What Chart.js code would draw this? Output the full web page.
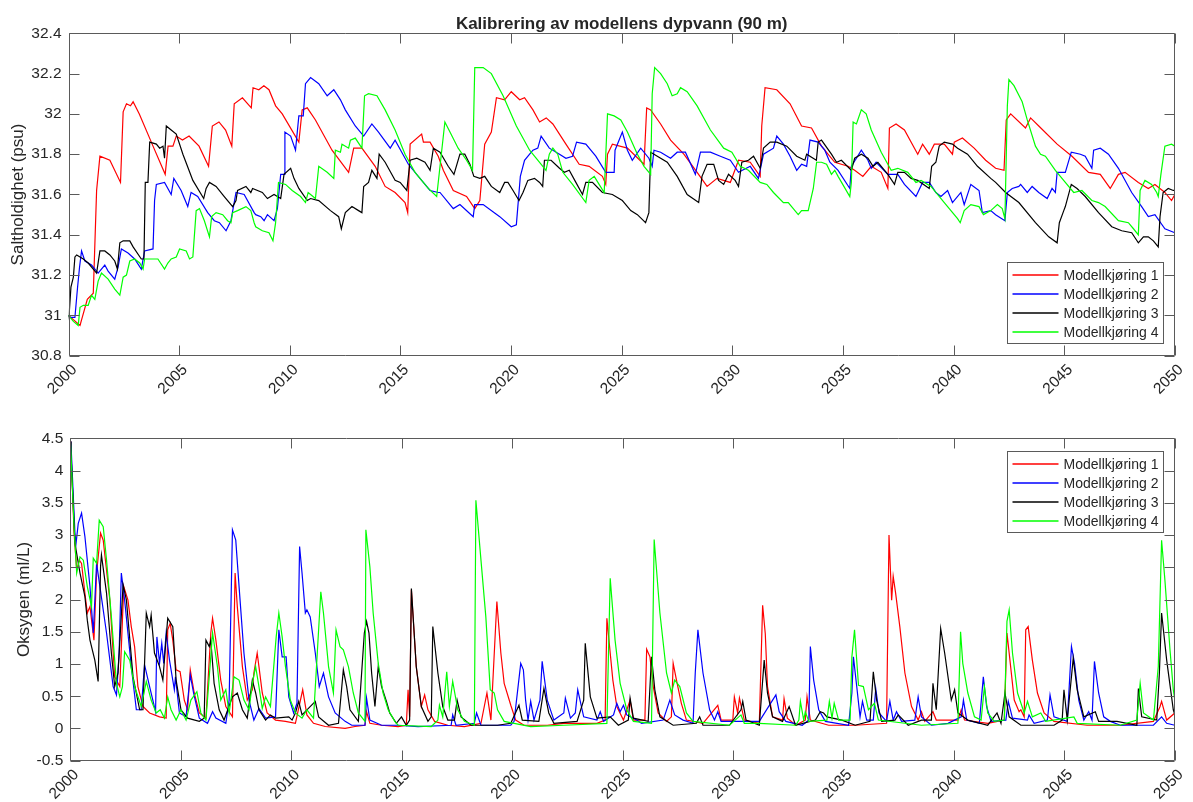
<!DOCTYPE html>
<html>
<head>
<meta charset="utf-8">
<script src="https://cdn.jsdelivr.net/npm/chart.js@4.4.1/dist/chart.umd.min.js"></script>
<style>
  html, body { margin: 0; padding: 0; background: #ffffff; }
  #wrap { position: relative; width: 1193px; height: 802px; background: #ffffff; }
  canvas { position: absolute; left: 0; display: block; }
</style>
</head>
<body>
<div id="wrap">
  <canvas id="salinityChart" width="1193" height="401" style="top:0"></canvas>
  <canvas id="oxygenChart" width="1193" height="401" style="top:401px"></canvas>
</div>
<script>
// ---- Axis ticks and labels ----
const yearTicks = [2000, 2005, 2010, 2015, 2020, 2025, 2030, 2035, 2040, 2045, 2050];
const salinityTicks = [30.8, 31, 31.2, 31.4, 31.6, 31.8, 32, 32.2, 32.4];
const oxygenTicks = [-0.5, 0, 0.5, 1, 1.5, 2, 2.5, 3, 3.5, 4, 4.5];
const runLabels = ['Modellkjøring 1', 'Modellkjøring 2', 'Modellkjøring 3', 'Modellkjøring 4'];
const runColors = ['#ff0000', '#0000ff', '#000000', '#00ff00'];

// ---- Salinity at 90 m (psu), [year, value] ----
const salinity1 = [[2000.00,31.00],[2000.52,30.95],[2000.85,31.08],[2001.12,31.11],[2001.27,31.62],[2001.42,31.79],[2001.87,31.77],[2002.35,31.66],[2002.47,32.01],[2002.62,32.05],[2002.80,32.04],[2002.92,32.06],[2003.20,32.00],[2003.82,31.84],[2004.37,31.70],[2004.50,31.84],[2004.72,31.84],[2004.87,31.89],[2005.15,31.87],[2005.45,31.89],[2005.90,31.84],[2006.33,31.74],[2006.50,31.94],[2006.80,31.96],[2007.10,31.92],[2007.38,31.84],[2007.49,32.05],[2007.86,32.08],[2008.26,32.03],[2008.34,32.13],[2008.60,32.12],[2008.83,32.14],[2009.06,32.12],[2009.36,32.04],[2009.66,32.00],[2010.41,31.86],[2010.56,32.02],[2010.79,32.03],[2011.16,31.97],[2011.91,31.82],[2012.66,31.71],[2012.89,31.83],[2013.26,31.83],[2013.86,31.74],[2014.31,31.64],[2014.76,31.61],[2015.21,31.56],[2015.33,31.51],[2015.44,31.85],[2015.96,31.90],[2016.04,31.86],[2016.34,31.86],[2016.71,31.79],[2016.94,31.72],[2017.39,31.62],[2017.99,31.59],[2018.36,31.53],[2018.59,31.57],[2018.81,31.85],[2019.11,31.91],[2019.34,32.08],[2019.71,32.07],[2020.01,32.11],[2020.39,32.07],[2020.61,32.08],[2020.99,32.02],[2021.29,31.96],[2021.59,31.98],[2021.89,31.95],[2022.48,31.85],[2023.08,31.75],[2023.53,31.74],[2024.13,31.69],[2024.28,31.65],[2024.36,31.80],[2024.58,31.85],[2025.26,31.83],[2026.01,31.75],[2026.13,32.03],[2026.31,32.02],[2026.76,31.95],[2027.21,31.87],[2027.81,31.80],[2028.41,31.71],[2028.86,31.64],[2029.31,31.68],[2029.91,31.66],[2030.28,31.77],[2030.81,31.76],[2031.26,31.69],[2031.33,31.94],[2031.48,32.13],[2032.01,32.12],[2032.61,32.05],[2033.13,31.94],[2033.58,31.93],[2034.03,31.84],[2034.63,31.76],[2035.23,31.74],[2035.53,31.72],[2035.90,31.69],[2036.28,31.74],[2036.73,31.71],[2037.03,31.63],[2037.10,31.93],[2037.40,31.95],[2037.78,31.92],[2038.38,31.80],[2038.60,31.85],[2038.90,31.80],[2039.13,31.85],[2039.58,31.85],[2039.95,31.80],[2040.03,31.86],[2040.40,31.88],[2040.93,31.83],[2041.45,31.77],[2041.90,31.73],[2042.28,31.72],[2042.38,31.97],[2042.58,32.00],[2043.25,31.93],[2043.48,31.98],[2043.85,31.94],[2044.68,31.85],[2045.35,31.79],[2046.10,31.71],[2046.63,31.70],[2047.08,31.63],[2047.45,31.70],[2047.75,31.71],[2048.35,31.66],[2048.80,31.63],[2049.10,31.65],[2049.55,31.61],[2049.85,31.57],[2050.00,31.60]];

const salinity2 = [[2000.00,31.00],[2000.07,30.99],[2000.29,30.99],[2000.41,31.14],[2000.50,31.24],[2000.59,31.32],[2000.74,31.27],[2001.04,31.25],[2001.34,31.21],[2001.64,31.25],[2001.79,31.22],[2002.09,31.18],[2002.24,31.24],[2002.39,31.33],[2002.69,31.31],[2002.99,31.28],[2003.29,31.23],[2003.44,31.32],[2003.82,31.33],[2003.89,31.57],[2003.97,31.65],[2004.34,31.66],[2004.64,31.60],[2004.76,31.68],[2005.09,31.62],[2005.39,31.54],[2005.54,31.61],[2005.84,31.59],[2006.29,31.51],[2006.59,31.47],[2006.82,31.46],[2007.12,31.42],[2007.34,31.47],[2007.57,31.61],[2007.94,31.60],[2008.39,31.51],[2008.46,31.50],[2008.69,31.49],[2008.84,31.47],[2008.99,31.50],[2009.29,31.47],[2009.44,31.53],[2009.59,31.70],[2009.74,31.70],[2009.78,31.91],[2010.04,31.89],[2010.26,31.82],[2010.41,31.99],[2010.61,31.99],[2010.71,32.15],[2010.94,32.18],[2011.31,32.15],[2011.69,32.09],[2011.99,32.12],[2012.29,32.07],[2012.51,32.02],[2012.96,31.94],[2013.34,31.89],[2013.71,31.95],[2014.01,31.91],[2014.54,31.83],[2014.76,31.87],[2015.36,31.75],[2015.96,31.67],[2016.34,31.62],[2016.71,31.61],[2016.79,31.61],[2017.39,31.53],[2017.69,31.55],[2018.29,31.49],[2018.36,31.55],[2018.74,31.55],[2019.49,31.49],[2020.01,31.44],[2020.24,31.45],[2020.42,31.69],[2020.61,31.77],[2020.84,31.80],[2020.99,31.82],[2021.21,31.83],[2021.36,31.89],[2021.73,31.83],[2022.19,31.80],[2022.48,31.78],[2022.78,31.79],[2022.96,31.86],[2023.38,31.85],[2023.83,31.79],[2024.28,31.71],[2024.66,31.71],[2024.70,31.82],[2025.03,31.91],[2025.26,31.82],[2025.48,31.77],[2025.86,31.83],[2026.23,31.78],[2026.38,31.74],[2026.46,31.82],[2026.76,31.81],[2027.21,31.78],[2027.51,31.81],[2027.88,31.81],[2028.33,31.70],[2028.56,31.81],[2029.01,31.81],[2029.46,31.79],[2029.91,31.77],[2030.28,31.71],[2030.81,31.74],[2031.18,31.68],[2031.41,31.80],[2031.86,31.83],[2032.01,31.89],[2032.31,31.85],[2032.61,31.79],[2032.91,31.72],[2033.13,31.75],[2033.36,31.74],[2033.51,31.87],[2033.88,31.86],[2034.18,31.82],[2034.41,31.76],[2034.78,31.72],[2035.31,31.63],[2035.38,31.74],[2035.61,31.78],[2035.83,31.82],[2036.13,31.77],[2036.28,31.73],[2036.50,31.76],[2037.03,31.70],[2037.48,31.70],[2037.78,31.65],[2038.30,31.59],[2038.60,31.66],[2038.90,31.66],[2039.20,31.61],[2039.43,31.59],[2039.73,31.62],[2039.95,31.56],[2040.33,31.61],[2040.48,31.55],[2040.78,31.65],[2041.15,31.62],[2041.30,31.51],[2041.68,31.52],[2041.90,31.50],[2042.32,31.47],[2042.43,31.61],[2042.65,31.63],[2042.95,31.64],[2043.03,31.65],[2043.33,31.61],[2043.55,31.64],[2043.85,31.61],[2044.23,31.58],[2044.45,31.63],[2044.60,31.61],[2044.68,31.71],[2045.05,31.71],[2045.32,31.81],[2045.73,31.80],[2045.95,31.79],[2046.25,31.73],[2046.33,31.82],[2046.63,31.83],[2047.00,31.80],[2047.45,31.73],[2048.05,31.61],[2048.50,31.54],[2048.80,31.49],[2049.10,31.50],[2049.55,31.43],[2050.00,31.41]];

const salinity3 = [[2000.00,31.00],[2000.02,30.99],[2000.11,31.14],[2000.22,31.19],[2000.29,31.29],[2000.37,31.30],[2000.52,31.29],[2000.67,31.28],[2000.89,31.26],[2001.12,31.23],[2001.27,31.21],[2001.42,31.32],[2001.64,31.32],[2001.87,31.30],[2002.09,31.27],[2002.21,31.23],[2002.32,31.36],[2002.47,31.37],[2002.77,31.37],[2002.92,31.34],[2003.29,31.28],[2003.41,31.28],[2003.47,31.66],[2003.59,31.66],[2003.67,31.86],[2003.97,31.85],[2004.12,31.83],[2004.27,31.84],[2004.34,31.78],[2004.42,31.94],[2004.64,31.92],[2004.87,31.90],[2005.17,31.80],[2005.62,31.67],[2006.11,31.58],[2006.22,31.63],[2006.37,31.66],[2006.67,31.64],[2007.04,31.59],[2007.42,31.54],[2007.57,31.57],[2007.64,31.62],[2008.02,31.64],[2008.24,31.61],[2008.32,31.63],[2008.76,31.61],[2008.99,31.58],[2009.29,31.60],[2009.59,31.58],[2009.74,31.70],[2010.04,31.73],[2010.19,31.68],[2010.41,31.63],[2010.79,31.57],[2010.94,31.58],[2011.31,31.57],[2011.84,31.52],[2012.21,31.49],[2012.33,31.43],[2012.51,31.51],[2012.81,31.54],[2013.11,31.52],[2013.26,31.51],[2013.34,31.64],[2013.56,31.66],[2013.71,31.72],[2013.94,31.68],[2014.04,31.80],[2014.31,31.76],[2014.76,31.67],[2014.99,31.66],[2015.29,31.62],[2015.44,31.77],[2015.74,31.78],[2016.11,31.76],[2016.34,31.72],[2016.49,31.83],[2016.79,31.81],[2017.16,31.74],[2017.42,31.70],[2017.69,31.80],[2017.91,31.80],[2018.14,31.75],[2018.32,31.69],[2018.59,31.68],[2018.81,31.69],[2019.11,31.64],[2019.49,31.61],[2019.71,31.66],[2019.86,31.66],[2020.09,31.62],[2020.36,31.57],[2020.54,31.61],[2020.76,31.67],[2021.06,31.68],[2021.29,31.66],[2021.43,31.64],[2021.51,31.77],[2021.81,31.77],[2022.19,31.73],[2022.41,31.71],[2022.63,31.72],[2022.93,31.66],[2023.23,31.60],[2023.38,31.66],[2023.68,31.66],[2024.13,31.61],[2024.58,31.60],[2025.03,31.57],[2025.11,31.56],[2025.41,31.52],[2025.71,31.50],[2026.08,31.46],[2026.23,31.51],[2026.31,31.81],[2026.61,31.79],[2027.06,31.76],[2027.51,31.69],[2027.96,31.60],[2028.48,31.56],[2028.63,31.69],[2028.86,31.75],[2029.16,31.75],[2029.38,31.67],[2029.61,31.65],[2029.83,31.70],[2030.13,31.67],[2030.28,31.64],[2030.43,31.76],[2030.73,31.77],[2030.96,31.79],[2031.26,31.73],[2031.41,31.83],[2031.71,31.86],[2032.01,31.86],[2032.46,31.84],[2032.91,31.79],[2033.28,31.77],[2033.36,31.80],[2033.80,31.77],[2033.88,31.86],[2034.03,31.87],[2034.48,31.80],[2034.71,31.76],[2034.93,31.77],[2035.38,31.72],[2035.53,31.78],[2035.83,31.80],[2036.13,31.78],[2036.36,31.74],[2036.58,31.76],[2037.03,31.70],[2037.33,31.65],[2037.48,31.71],[2037.78,31.71],[2038.08,31.68],[2038.38,31.67],[2038.90,31.63],[2039.01,31.74],[2039.20,31.76],[2039.35,31.84],[2039.58,31.86],[2039.95,31.85],[2040.18,31.83],[2040.63,31.80],[2041.08,31.74],[2041.68,31.68],[2041.90,31.66],[2042.35,31.61],[2042.95,31.56],[2043.70,31.46],[2044.30,31.39],[2044.68,31.36],[2044.78,31.46],[2044.98,31.52],[2045.05,31.54],[2045.32,31.65],[2045.58,31.63],[2045.95,31.59],[2046.55,31.51],[2047.15,31.44],[2047.60,31.42],[2048.05,31.41],[2048.35,31.36],[2048.58,31.39],[2048.80,31.39],[2049.03,31.37],[2049.25,31.34],[2049.33,31.49],[2049.47,31.61],[2049.70,31.63],[2049.93,31.62],[2050.00,31.62]];

const salinity4 = [[2000.00,31.00],[2000.22,30.97],[2000.44,30.95],[2000.52,31.04],[2000.67,31.05],[2000.89,31.05],[2001.04,31.10],[2001.19,31.08],[2001.34,31.17],[2001.49,31.21],[2001.79,31.18],[2002.09,31.13],[2002.32,31.10],[2002.47,31.19],[2002.62,31.20],[2002.77,31.27],[2002.99,31.28],[2003.22,31.26],[2003.37,31.23],[2003.44,31.28],[2003.74,31.28],[2004.04,31.28],[2004.34,31.23],[2004.49,31.26],[2004.64,31.28],[2004.87,31.29],[2005.02,31.33],[2005.32,31.32],[2005.47,31.28],[2005.62,31.29],[2005.77,31.52],[2005.92,31.53],[2006.14,31.47],[2006.37,31.39],[2006.47,31.49],[2006.67,31.51],[2006.97,31.50],[2007.19,31.47],[2007.34,31.46],[2007.42,31.51],[2007.64,31.52],[2008.02,31.54],[2008.24,31.52],[2008.39,31.46],[2008.46,31.44],[2008.76,31.42],[2009.06,31.41],[2009.24,31.37],[2009.36,31.46],[2009.49,31.66],[2009.81,31.65],[2010.11,31.62],[2010.49,31.59],[2010.71,31.56],[2010.83,31.61],[2010.94,31.60],[2011.16,31.58],[2011.31,31.74],[2011.69,31.71],[2011.99,31.68],[2012.06,31.82],[2012.29,31.81],[2012.36,31.85],[2012.66,31.83],[2012.74,31.87],[2012.96,31.88],[2013.26,31.83],[2013.38,32.09],[2013.56,32.10],[2013.94,32.09],[2014.31,32.02],[2014.76,31.92],[2015.21,31.80],[2015.66,31.71],[2016.26,31.63],[2016.64,31.59],[2016.79,31.74],[2017.01,31.96],[2017.24,31.91],[2017.61,31.83],[2017.99,31.77],[2018.26,31.72],[2018.36,32.23],[2018.74,32.23],[2019.11,32.20],[2019.64,32.09],[2020.24,31.94],[2020.84,31.82],[2021.29,31.76],[2021.58,31.72],[2021.73,31.80],[2021.89,31.83],[2022.11,31.80],[2022.34,31.71],[2022.78,31.65],[2023.38,31.56],[2023.53,31.67],[2023.76,31.69],[2023.98,31.65],[2024.21,31.61],[2024.36,32.00],[2024.66,31.99],[2024.96,31.97],[2025.26,31.91],[2025.71,31.80],[2026.01,31.74],[2026.31,31.70],[2026.38,32.10],[2026.49,32.23],[2026.76,32.20],[2027.06,32.15],[2027.28,32.09],[2027.51,32.10],[2027.66,32.13],[2027.96,32.11],[2028.41,32.04],[2029.01,31.92],[2029.61,31.83],[2029.98,31.81],[2030.36,31.74],[2030.73,31.72],[2031.26,31.66],[2031.56,31.65],[2031.86,31.61],[2032.31,31.56],[2032.53,31.56],[2032.68,31.54],[2032.98,31.50],[2033.13,31.52],[2033.43,31.52],[2033.66,31.63],[2033.81,31.76],[2034.03,31.76],[2034.26,31.75],[2034.48,31.70],[2034.63,31.72],[2034.78,31.69],[2035.31,31.59],[2035.38,31.66],[2035.46,31.96],[2035.61,31.95],[2035.83,32.02],[2036.05,32.00],[2036.28,31.92],[2036.73,31.81],[2037.18,31.72],[2037.48,31.73],[2037.93,31.71],[2038.30,31.66],[2038.53,31.67],[2038.98,31.64],[2039.58,31.56],[2040.18,31.48],[2040.30,31.46],[2040.48,31.52],[2040.78,31.55],[2041.15,31.54],[2041.35,31.50],[2041.68,31.52],[2041.98,31.55],[2042.20,31.53],[2042.32,31.48],[2042.43,32.04],[2042.50,32.17],[2042.73,32.14],[2043.10,32.06],[2043.33,31.97],[2043.70,31.84],[2043.93,31.80],[2044.15,31.79],[2044.60,31.72],[2045.05,31.66],[2045.43,31.61],[2045.80,31.62],[2046.25,31.57],[2046.55,31.56],[2046.85,31.54],[2047.45,31.47],[2047.90,31.46],[2048.13,31.43],[2048.35,31.40],[2048.43,31.62],[2048.65,31.67],[2048.95,31.65],[2049.18,31.61],[2049.25,31.59],[2049.37,31.70],[2049.55,31.84],[2049.85,31.85],[2050.00,31.84]];

// ---- Oxygen at 90 m (ml/L), [year, value] ----
const oxygen1 = [[2000.00,4.45],[2000.03,4.37],[2000.17,3.03],[2000.29,2.46],[2000.41,2.61],[2000.51,2.56],[2000.66,2.10],[2000.77,1.79],[2000.89,1.89],[2001.07,1.37],[2001.19,2.41],[2001.37,3.03],[2001.49,2.92],[2001.79,1.99],[2002.01,0.80],[2002.24,0.65],[2002.42,2.20],[2002.61,1.99],[2002.76,1.58],[2002.91,1.27],[2003.06,0.65],[2003.29,0.34],[2003.59,0.24],[2004.04,0.18],[2004.34,0.16],[2004.41,1.53],[2004.52,1.63],[2004.64,1.37],[2004.79,0.91],[2004.97,0.88],[2005.16,0.44],[2005.31,0.29],[2005.43,0.91],[2005.61,0.55],[2005.84,0.24],[2006.14,0.16],[2006.36,1.48],[2006.44,1.71],[2006.59,1.37],[2006.81,0.75],[2007.04,0.34],[2007.34,0.18],[2007.46,2.41],[2007.56,1.89],[2007.79,0.96],[2008.01,0.44],[2008.24,0.60],[2008.31,0.86],[2008.46,1.17],[2008.54,0.96],[2008.69,0.55],[2008.91,0.24],[2009.29,0.13],[2009.74,0.11],[2010.19,0.08],[2010.52,0.60],[2010.71,0.21],[2011.01,0.08],[2011.54,0.03],[2012.44,0.00],[2012.89,0.03],[2013.34,0.05],[2013.41,0.26],[2013.56,0.08],[2014.09,0.05],[2014.84,0.03],[2015.21,0.05],[2015.29,0.60],[2015.36,0.18],[2015.44,2.15],[2015.66,0.96],[2015.89,0.34],[2016.04,0.52],[2016.19,0.29],[2016.49,0.11],[2017.09,0.05],[2017.84,0.03],[2018.59,0.08],[2018.86,0.55],[2019.04,0.13],[2019.31,1.97],[2019.49,1.17],[2019.64,0.70],[2019.94,0.36],[2020.16,0.13],[2020.54,0.05],[2021.59,0.05],[2022.34,0.08],[2023.84,0.08],[2024.21,0.13],[2024.29,1.71],[2024.44,1.17],[2024.56,0.75],[2024.74,0.34],[2025.04,0.13],[2025.34,0.44],[2025.49,0.13],[2026.01,0.13],[2026.09,1.23],[2026.24,1.11],[2026.39,0.65],[2026.61,0.24],[2026.99,0.11],[2027.21,0.18],[2027.29,1.01],[2027.44,0.75],[2027.66,0.39],[2027.89,0.13],[2028.64,0.08],[2029.31,0.36],[2029.46,0.13],[2029.99,0.13],[2030.06,0.49],[2030.21,0.24],[2030.29,0.47],[2030.51,0.13],[2031.19,0.08],[2031.34,1.91],[2031.46,1.47],[2031.56,0.65],[2031.79,0.18],[2032.24,0.13],[2032.31,0.46],[2032.46,0.16],[2032.84,0.05],[2033.27,0.13],[2033.35,0.49],[2033.50,0.13],[2034.33,0.05],[2035.53,0.05],[2036.95,0.08],[2037.06,3.00],[2037.18,1.99],[2037.25,2.36],[2037.36,2.10],[2037.55,1.58],[2037.78,0.86],[2038.08,0.34],[2038.38,0.13],[2038.53,0.26],[2038.68,0.11],[2039.05,0.26],[2039.20,0.13],[2040.18,0.13],[2040.33,0.29],[2040.48,0.13],[2041.53,0.08],[2042.28,0.13],[2042.40,1.48],[2042.50,1.17],[2042.73,0.44],[2042.95,0.26],[2043.03,0.29],[2043.18,0.18],[2043.25,1.53],[2043.36,1.58],[2043.55,1.06],[2043.78,0.55],[2044.08,0.24],[2044.53,0.11],[2046.03,0.05],[2047.53,0.05],[2049.03,0.11],[2049.33,0.34],[2049.40,0.42],[2049.63,0.13],[2050.00,0.24]];

const oxygen2 = [[2000.00,4.45],[2000.03,4.42],[2000.21,3.03],[2000.26,2.87],[2000.36,3.18],[2000.51,3.34],[2000.66,2.98],[2000.89,2.20],[2001.04,1.48],[2001.19,2.56],[2001.34,2.20],[2001.64,1.48],[2001.94,0.65],[2002.09,0.52],[2002.21,1.17],[2002.31,2.41],[2002.46,1.99],[2002.76,0.96],[2002.99,0.29],[2003.21,0.29],[2003.36,0.99],[2003.59,0.65],[2003.86,0.26],[2003.92,1.42],[2004.04,1.01],[2004.14,1.32],[2004.23,1.01],[2004.34,1.48],[2004.49,1.06],[2004.71,0.60],[2004.76,0.80],[2004.94,0.24],[2005.24,0.18],[2005.43,0.83],[2005.58,0.55],[2005.84,0.16],[2006.21,0.08],[2006.44,0.26],[2006.59,0.16],[2007.04,0.08],[2007.19,0.44],[2007.34,3.08],[2007.49,2.92],[2007.64,2.20],[2007.86,1.17],[2008.09,0.44],[2008.31,0.13],[2008.54,0.31],[2008.84,0.16],[2009.29,0.18],[2009.44,1.53],[2009.59,1.11],[2009.77,1.11],[2009.89,0.49],[2010.11,0.24],[2010.26,0.39],[2010.38,2.82],[2010.49,2.41],[2010.64,1.79],[2010.71,1.84],[2010.86,1.73],[2011.09,1.17],[2011.27,0.65],[2011.46,0.86],[2011.69,0.49],[2011.99,0.24],[2012.44,0.11],[2012.74,0.05],[2013.34,0.05],[2013.41,0.47],[2013.56,0.13],[2014.09,0.05],[2014.84,0.05],[2015.74,0.03],[2017.24,0.05],[2017.31,0.21],[2017.46,0.05],[2018.29,0.08],[2018.39,0.24],[2018.59,0.05],[2019.94,0.05],[2020.09,0.11],[2020.39,1.01],[2020.51,0.91],[2020.61,0.44],[2020.72,0.13],[2020.84,0.42],[2020.99,0.13],[2021.26,0.44],[2021.36,1.04],[2021.59,0.44],[2021.89,0.13],[2022.34,0.24],[2022.41,0.47],[2022.64,0.16],[2022.86,0.24],[2022.97,0.60],[2023.24,0.18],[2023.84,0.13],[2023.99,0.26],[2024.14,0.11],[2024.59,0.21],[2024.74,0.39],[2024.89,0.26],[2025.04,0.36],[2025.19,0.21],[2025.64,0.13],[2025.86,0.08],[2026.84,0.13],[2027.14,0.44],[2027.36,0.21],[2027.74,0.13],[2028.19,0.08],[2028.29,0.86],[2028.41,1.53],[2028.64,0.86],[2028.94,0.29],[2029.16,0.13],[2029.31,0.26],[2029.46,0.11],[2031.19,0.11],[2031.94,0.52],[2032.09,0.26],[2032.39,0.11],[2032.76,0.08],[2033.13,0.05],[2033.43,0.13],[2033.50,1.27],[2033.65,0.75],[2033.88,0.29],[2034.18,0.11],[2035.23,0.05],[2035.38,0.55],[2035.45,1.11],[2035.60,0.65],[2035.75,0.18],[2035.86,0.42],[2036.05,0.13],[2036.35,0.13],[2036.46,0.62],[2036.61,0.24],[2036.95,0.11],[2037.10,0.42],[2037.25,0.13],[2037.40,0.26],[2037.63,0.11],[2038.23,0.13],[2038.38,0.49],[2038.53,0.18],[2038.98,0.05],[2039.73,0.08],[2040.33,0.18],[2040.43,0.44],[2040.58,0.13],[2041.15,0.08],[2041.33,0.80],[2041.48,0.34],[2041.68,0.11],[2042.35,0.13],[2042.46,0.42],[2042.65,0.16],[2043.33,0.13],[2043.40,0.21],[2043.63,0.08],[2044.23,0.13],[2044.35,0.52],[2044.53,0.18],[2045.13,0.11],[2045.32,1.27],[2045.46,1.01],[2045.65,0.44],[2045.88,0.13],[2046.10,0.26],[2046.25,0.13],[2046.36,1.04],[2046.55,0.55],[2046.78,0.18],[2047.08,0.11],[2047.53,0.05],[2049.03,0.05],[2049.40,0.18],[2049.63,0.08],[2050.00,0.05]];

const oxygen3 = [[2000.00,4.45],[2000.03,4.27],[2000.21,2.87],[2000.44,2.41],[2000.66,2.05],[2000.77,1.68],[2000.89,1.37],[2001.11,1.06],[2001.26,0.73],[2001.37,2.51],[2001.41,2.69],[2001.64,2.10],[2001.86,1.17],[2002.01,0.65],[2002.16,0.86],[2002.39,2.23],[2002.54,1.99],[2002.84,0.80],[2003.14,0.29],[2003.29,0.29],[2003.44,1.79],[2003.59,1.58],[2003.66,1.76],[2003.81,1.17],[2004.04,0.96],[2004.19,0.75],[2004.41,1.71],[2004.64,1.58],[2004.79,0.75],[2005.01,0.29],[2005.31,0.16],[2005.84,0.11],[2006.06,0.16],[2006.14,1.37],[2006.29,1.27],[2006.36,1.37],[2006.51,0.70],[2006.74,0.29],[2006.96,0.13],[2007.34,0.49],[2007.56,0.55],[2007.79,0.29],[2008.01,0.16],[2008.24,0.75],[2008.39,0.55],[2008.54,0.29],[2008.84,0.13],[2009.06,0.21],[2009.29,0.16],[2009.89,0.18],[2010.04,0.13],[2010.19,0.24],[2010.34,0.42],[2010.49,0.21],[2011.09,0.42],[2011.24,0.18],[2011.69,0.05],[2012.14,0.08],[2012.36,0.91],[2012.51,0.65],[2012.66,0.29],[2013.04,0.11],[2013.31,1.48],[2013.41,1.66],[2013.52,1.48],[2013.64,0.86],[2013.79,0.34],[2013.94,0.96],[2014.09,0.65],[2014.31,0.42],[2014.46,0.24],[2014.76,0.08],[2014.99,0.18],[2015.21,0.05],[2015.36,0.13],[2015.44,2.17],[2015.66,0.96],[2015.89,0.34],[2016.19,0.11],[2016.34,0.18],[2016.41,1.58],[2016.64,0.86],[2016.86,0.34],[2017.09,0.13],[2017.39,0.13],[2017.51,0.44],[2017.69,0.18],[2018.14,0.05],[2019.34,0.05],[2019.94,0.08],[2020.31,0.36],[2020.46,0.13],[2021.21,0.11],[2021.44,0.62],[2021.66,0.24],[2021.89,0.08],[2022.94,0.11],[2023.24,0.44],[2023.31,1.32],[2023.54,0.49],[2023.84,0.16],[2024.44,0.18],[2024.81,0.05],[2025.26,0.13],[2025.34,0.47],[2025.49,0.16],[2026.16,0.11],[2026.31,1.11],[2026.46,0.60],[2026.69,0.18],[2027.29,0.05],[2028.34,0.08],[2028.49,0.18],[2028.64,0.05],[2029.84,0.05],[2030.36,0.29],[2030.44,0.42],[2030.59,0.13],[2031.19,0.05],[2031.41,1.06],[2031.56,0.55],[2031.79,0.18],[2032.24,0.11],[2032.54,0.34],[2032.83,0.05],[2033.73,0.13],[2033.95,0.26],[2034.10,0.24],[2034.25,0.18],[2034.93,0.13],[2035.53,0.05],[2036.20,0.11],[2036.35,0.88],[2036.50,0.44],[2036.73,0.11],[2037.33,0.13],[2037.48,0.21],[2037.93,0.05],[2038.53,0.13],[2038.98,0.13],[2039.05,0.70],[2039.20,0.29],[2039.40,1.55],[2039.58,1.17],[2039.88,0.44],[2040.03,0.60],[2040.18,0.24],[2040.63,0.13],[2041.53,0.05],[2041.95,0.24],[2042.13,0.08],[2042.31,0.55],[2042.50,0.18],[2043.03,0.05],[2044.53,0.05],[2044.90,0.13],[2044.98,0.60],[2045.13,0.13],[2045.40,1.09],[2045.58,0.60],[2045.88,0.18],[2046.40,0.26],[2046.55,0.11],[2047.38,0.11],[2048.28,0.05],[2048.35,0.62],[2048.50,0.18],[2049.18,0.13],[2049.30,0.86],[2049.40,1.79],[2049.63,1.06],[2049.93,0.29],[2050.00,0.21]];

const oxygen4 = [[2000.00,4.50],[2000.03,4.50],[2000.17,3.13],[2000.29,2.41],[2000.44,2.66],[2000.59,2.61],[2000.77,2.20],[2000.96,1.89],[2001.04,2.64],[2001.19,2.56],[2001.31,3.23],[2001.49,3.13],[2001.64,2.61],[2001.86,1.73],[2002.09,0.70],[2002.24,0.49],[2002.36,0.65],[2002.46,1.19],[2002.69,1.06],[2002.91,0.65],[2003.21,0.34],[2003.44,0.73],[2003.66,0.44],[2003.89,0.24],[2004.07,0.29],[2004.26,0.16],[2004.41,0.49],[2004.56,0.29],[2004.79,0.13],[2005.01,0.29],[2005.24,0.13],[2005.46,0.44],[2005.73,0.57],[2005.91,0.24],[2006.14,0.13],[2006.44,1.48],[2006.66,0.96],[2006.81,0.44],[2007.04,0.60],[2007.19,0.24],[2007.41,0.80],[2007.64,0.75],[2007.86,0.44],[2008.09,0.29],[2008.24,0.70],[2008.39,0.96],[2008.54,0.65],[2008.69,0.31],[2008.84,0.49],[2009.06,0.34],[2009.32,1.42],[2009.44,1.79],[2009.59,1.42],[2009.74,0.96],[2009.96,0.44],[2010.19,0.24],[2010.49,0.16],[2010.71,0.29],[2011.01,0.16],[2011.34,2.12],[2011.46,1.79],[2011.69,0.96],[2011.91,0.55],[2012.03,1.53],[2012.21,1.27],[2012.36,1.22],[2012.59,0.96],[2012.81,0.55],[2013.04,0.24],[2013.34,0.11],[2013.38,3.08],[2013.56,2.51],[2013.71,1.79],[2013.94,1.01],[2014.16,0.55],[2014.39,0.29],[2014.69,0.11],[2014.84,0.05],[2016.34,0.03],[2016.64,0.13],[2016.71,0.36],[2016.86,0.18],[2017.04,0.88],[2017.16,0.34],[2017.31,0.73],[2017.54,0.29],[2017.84,0.11],[2018.29,0.05],[2018.36,3.54],[2018.59,2.61],[2018.81,1.73],[2019.01,0.60],[2019.19,0.55],[2019.34,0.29],[2019.64,0.11],[2020.84,0.03],[2022.34,0.05],[2024.29,0.08],[2024.44,2.33],[2024.66,1.37],[2024.89,0.70],[2025.19,0.29],[2025.49,0.11],[2026.31,0.08],[2026.43,2.93],[2026.69,1.79],[2026.99,0.86],[2027.21,0.55],[2027.36,0.75],[2027.59,0.65],[2027.89,0.24],[2028.19,0.11],[2029.84,0.05],[2030.36,0.21],[2030.51,0.08],[2031.19,0.08],[2032.84,0.05],[2032.98,0.13],[2033.05,0.42],[2033.20,0.13],[2033.27,0.26],[2033.43,0.11],[2034.25,0.13],[2034.36,0.42],[2034.48,0.16],[2034.58,0.39],[2034.78,0.13],[2035.30,0.13],[2035.38,1.11],[2035.50,1.53],[2035.68,0.67],[2035.90,0.65],[2036.13,0.29],[2036.40,0.39],[2036.58,0.13],[2038.53,0.05],[2040.18,0.08],[2040.30,1.50],[2040.40,1.01],[2040.63,0.55],[2040.93,0.18],[2041.23,0.13],[2041.38,0.65],[2041.53,0.24],[2041.83,0.11],[2042.28,0.13],[2042.40,1.66],[2042.50,1.84],[2042.65,1.17],[2042.88,0.55],[2043.18,0.24],[2043.33,0.42],[2043.55,0.18],[2043.93,0.24],[2044.15,0.11],[2045.43,0.18],[2045.58,0.08],[2047.53,0.05],[2048.28,0.13],[2048.43,0.70],[2048.58,0.24],[2049.03,0.13],[2049.25,0.96],[2049.40,2.92],[2049.55,2.30],[2049.78,1.22],[2049.93,0.60],[2050.00,0.44]];

// ---- Styling ----
const FONT = "'Liberation Sans', Arial, Helvetica, sans-serif";
const TEXT_COLOR = '#262626';
const AXIS_COLOR = '#5a5a5a';
const TICK_LEN = 10;
const LINE_WIDTH = 1.2;

// Box, inward ticks on all four sides, axis title, optional title and an inset legend
const matlabAxes = {
  id: 'matlabAxes',
  afterDraw(chart, _args, opts) {
    const { ctx, chartArea: area, scales } = chart;
    const left = Math.round(area.left) + 0.5;
    const right = Math.round(area.right) - 0.5;
    const top = Math.round(area.top) + 0.5;
    const bottom = Math.round(area.bottom) - 0.5;

    ctx.save();
    ctx.strokeStyle = AXIS_COLOR;
    ctx.lineWidth = 1;
    ctx.beginPath();
    ctx.rect(left, top, right - left, bottom - top);
    for (const t of scales.x.ticks) {
      const px = Math.round(scales.x.getPixelForValue(t.value)) + 0.5;
      ctx.moveTo(px, bottom); ctx.lineTo(px, bottom - TICK_LEN);
      ctx.moveTo(px, top); ctx.lineTo(px, top + TICK_LEN);
    }
    for (const t of scales.y.ticks) {
      const py = Math.round(scales.y.getPixelForValue(t.value)) + 0.5;
      ctx.moveTo(left, py); ctx.lineTo(left + TICK_LEN, py);
      ctx.moveTo(right, py); ctx.lineTo(right - TICK_LEN, py);
    }
    ctx.stroke();

    // y-axis title
    ctx.fillStyle = TEXT_COLOR;
    ctx.font = `17px ${FONT}`;
    ctx.textAlign = 'center';
    ctx.textBaseline = 'middle';
    ctx.save();
    ctx.translate(opts.yTitleX, (area.top + area.bottom) / 2);
    ctx.rotate(-Math.PI / 2);
    ctx.fillText(opts.yTitle, 0, 0);
    ctx.restore();

    // chart title
    if (opts.title) {
      ctx.font = `bold 17px ${FONT}`;
      ctx.textAlign = 'center';
      ctx.textBaseline = 'middle';
      ctx.fillText(opts.title, (area.left + area.right) / 2, opts.titleY);
    }

    // legend box inside the axes
    const boxW = 156, boxH = 81;
    const bx = Math.round(area.right - opts.legendMarginX - boxW) + 0.5;
    const by = opts.legendCorner === 'top'
      ? Math.round(area.top + opts.legendMarginY) + 0.5
      : Math.round(area.bottom - opts.legendMarginY - boxH) + 0.5;
    ctx.fillStyle = '#ffffff';
    ctx.fillRect(bx, by, boxW, boxH);
    ctx.strokeStyle = AXIS_COLOR;
    ctx.lineWidth = 1;
    ctx.strokeRect(bx, by, boxW, boxH);
    ctx.font = `14px ${FONT}`;
    ctx.textAlign = 'left';
    ctx.textBaseline = 'middle';
    chart.data.datasets.forEach((ds, i) => {
      const rowY = by + 12.5 + i * 19;
      ctx.strokeStyle = ds.borderColor;
      ctx.lineWidth = 1.5;
      ctx.beginPath();
      ctx.moveTo(bx + 5, rowY);
      ctx.lineTo(bx + 51, rowY);
      ctx.stroke();
      ctx.fillStyle = TEXT_COLOR;
      ctx.fillText(ds.label, bx + 56, rowY + 1);
    });
    ctx.restore();
  }
};

function buildDatasets(seriesList) {
  return seriesList.map((series, i) => ({
    label: runLabels[i],
    data: series.map(([x, y]) => ({ x, y })),
    borderColor: runColors[i],
    backgroundColor: runColors[i],
    borderWidth: LINE_WIDTH,
    pointRadius: 0,
    tension: 0,
    fill: false,
    order: seriesList.length - i
  }));
}

function makeChart(canvasId, seriesList, cfg) {
  return new Chart(document.getElementById(canvasId), {
    type: 'line',
    data: { datasets: buildDatasets(seriesList) },
    options: {
      responsive: false,
      animation: false,
      devicePixelRatio: 1,
      layout: { padding: { top: cfg.padTop, right: cfg.padRight, left: 0, bottom: 0 } },
      plugins: {
        legend: { display: false },
        tooltip: { enabled: false },
        title: { display: false },
        matlabAxes: cfg.frame
      },
      scales: {
        x: {
          type: 'linear',
          min: 2000,
          max: 2050,
          grid: { display: false, drawTicks: false },
          border: { display: false },
          afterBuildTicks: s => { s.ticks = yearTicks.map(v => ({ value: v })); },
          afterFit: s => { s.height = cfg.xHeight; },
          ticks: {
            autoSkip: false,
            minRotation: 45,
            maxRotation: 45,
            padding: cfg.xPad,
            labelOffset: cfg.xLabelOffset,
            color: TEXT_COLOR,
            font: { family: FONT, size: 15.5 },
            callback: v => String(v)
          }
        },
        y: {
          type: 'linear',
          min: cfg.yMin,
          max: cfg.yMax,
          grid: { display: false, drawTicks: false },
          border: { display: false },
          afterBuildTicks: s => { s.ticks = cfg.yTicks.map(v => ({ value: v })); },
          afterFit: s => { s.width = cfg.yWidth; },
          ticks: {
            autoSkip: false,
            padding: 7,
            color: TEXT_COLOR,
            font: { family: FONT, size: 15.5 },
            callback: v => String(v)
          }
        }
      }
    },
    plugins: [matlabAxes]
  });
}

makeChart('salinityChart', [salinity1, salinity2, salinity3, salinity4], {
  yMin: 30.8, yMax: 32.4, yTicks: salinityTicks,
  padTop: 33.3, padRight: 13, yWidth: 68.5, xHeight: 45.3,
  xPad: 5, xLabelOffset: 6,
  frame: {
    yTitle: 'Saltholdighet (psu)', yTitleX: 18.5,
    title: 'Kalibrering av modellens dypvann (90 m)', titleY: 24,
    legendCorner: 'bottom', legendMarginX: 12, legendMarginY: 12.5
  }
});

makeChart('oxygenChart', [oxygen1, oxygen2, oxygen3, oxygen4], {
  yMin: -0.5, yMax: 4.5, yTicks: oxygenTicks,
  padTop: 37.3, padRight: 11.7, yWidth: 70.3, xHeight: 41.3,
  xPad: 5, xLabelOffset: 6,
  frame: {
    yTitle: 'Oksygen (ml/L)', yTitleX: 24,
    legendCorner: 'top', legendMarginX: 11.5, legendMarginY: 12.5
  }
});
</script>
</body>
</html>
